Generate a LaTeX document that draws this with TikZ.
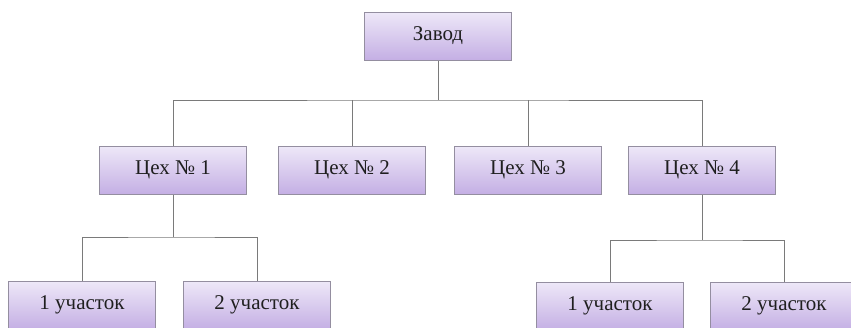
\documentclass[tikz,border=0pt]{standalone}
\usepackage{fontspec}
\setmainfont{Liberation Serif}
\definecolor{boxtop}{HTML}{EEE8F8}
\definecolor{boxbot}{HTML}{C4AFE4}
\definecolor{boxline}{HTML}{948EA0}
\definecolor{conn}{HTML}{7A7A7A}
\begin{document}
\begin{tikzpicture}[x=1pt,y=-1pt,
  orgbox/.style={rectangle, draw=boxline, line width=1pt, top color=boxtop, bottom color=boxbot,
    minimum width=147pt, minimum height=48pt, inner sep=0pt, font=\fontsize{21}{23}\selectfont, text=black!88},
  link/.style={draw=conn, line width=1pt}]
\useasboundingbox (0,0) rectangle (851,327);
\node[orgbox] (zavod) at (438,36) {Завод};
\node[orgbox] (c1) at (173,170) {Цех № 1};
\node[orgbox] (c2) at (352,170) {Цех № 2};
\node[orgbox] (c3) at (528,170) {Цех № 3};
\node[orgbox] (c4) at (702,170) {Цех № 4};
\node[orgbox] (u11) at (82,305) {1 участок};
\node[orgbox] (u12) at (257,305) {2 участок};
\node[orgbox] (u41) at (610,306) {1 участок};
\node[orgbox] (u42) at (784,306) {2 участок};
\coordinate (bus) at (438,100);
\coordinate (bus1) at (173,237);
\coordinate (bus4) at (702,240);
\draw[link] (zavod.south) -- (bus);
\draw[link] (c1.north) |- (bus) -| (c4.north);
\draw[link] (c2.north) -- (c2.north |- bus);
\draw[link] (c3.north) -- (c3.north |- bus);
\draw[link] (c1.south) -- (bus1);
\draw[link] (u11.north) |- (bus1) -| (u12.north);
\draw[link] (c4.south) -- (bus4);
\draw[link] (u41.north) |- (bus4) -| (u42.north);
\end{tikzpicture}
\end{document}
